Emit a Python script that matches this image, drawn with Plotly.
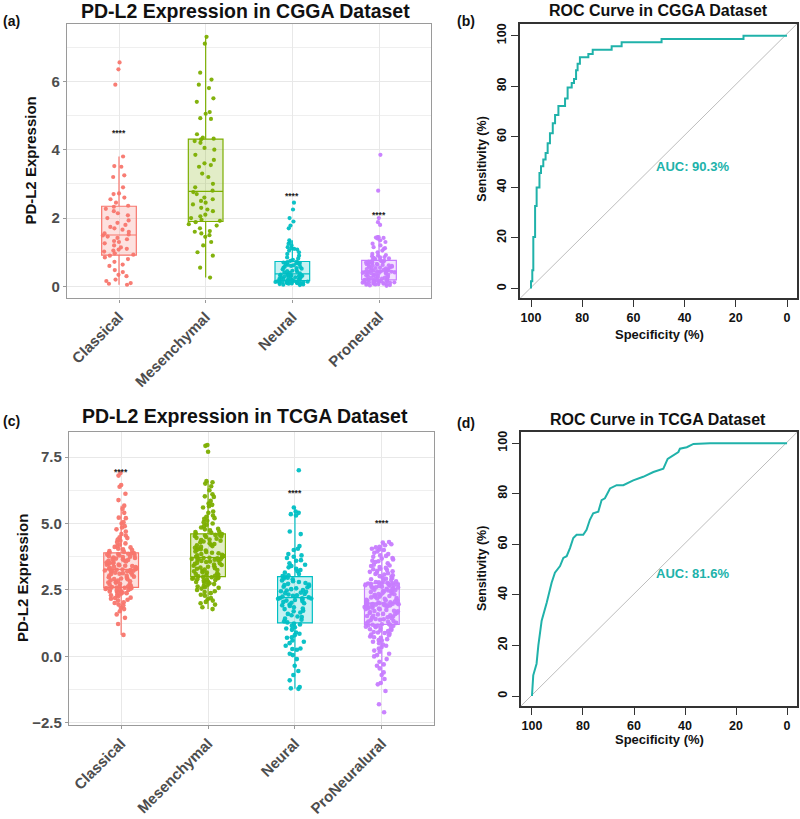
import plotly.graph_objects as go

W, H = 800, 819
FONT = "Liberation Sans"

# ---------------- data ----------------
cgga_groups = ["Classical", "Mesenchymal", "Neural", "Proneural"]
tcga_groups = ["Classical", "Mesenchymal", "Neural", "ProNeuralural"]
group_colors = ["#F8766D", "#7CAE00", "#00BFC4", "#C77CFF"]
group_fills = ["rgba(248,118,109,0.22)", "rgba(124,174,0,0.22)",
               "rgba(0,191,196,0.22)", "rgba(199,124,255,0.22)"]

cgga_classical = [0.05, 0.08, 0.1, 0.16, 0.2, 0.3, 0.34, 0.42, 0.48, 0.6, 0.64, 0.72, 0.8, 0.85, 0.9,
                  0.93, 0.97, 1.02, 1.05, 1.08, 1.1, 1.14, 1.2, 1.26, 1.3, 1.33, 1.38, 1.42, 1.46, 1.49,
                  1.52, 1.55, 1.6, 1.66, 1.7, 1.74, 1.8, 1.86, 1.93, 2.0, 2.08, 2.14, 2.2, 2.27, 2.33,
                  2.36, 2.45, 2.55, 2.6, 2.7, 2.72, 2.9, 3.2, 3.25, 3.5, 3.52, 3.8, 5.9, 6.35, 6.55]
cgga_mesenchymal = [0.26, 0.55, 0.9, 1.0, 1.2, 1.3, 1.45, 1.5, 1.55, 1.6, 1.62, 1.7, 1.78, 1.82, 1.88,
                    1.92, 1.95, 2.0, 2.05, 2.1, 2.2, 2.25, 2.3, 2.4, 2.45, 2.5, 2.55, 2.6, 2.7, 2.76,
                    2.8, 2.9, 3.0, 3.2, 3.3, 3.5, 3.55, 3.6, 3.7, 3.85, 4.0, 4.05, 4.2, 4.25, 4.3,
                    4.32, 4.35, 4.45, 4.9, 4.92, 5.05, 5.1, 5.4, 5.5, 5.8, 5.9, 6.05, 6.25, 7.1, 7.3]
cgga_neural = [0.04, 0.05, 0.06, 0.07, 0.08, 0.08, 0.09, 0.1, 0.1, 0.11, 0.11, 0.12, 0.12, 0.13, 0.13,
               0.14, 0.14, 0.15, 0.15, 0.15, 0.16, 0.16,
               0.17, 0.18, 0.19, 0.2, 0.2, 0.21, 0.22, 0.23, 0.24, 0.25, 0.26, 0.27, 0.28, 0.29, 0.3,
               0.3, 0.31, 0.32, 0.33, 0.33, 0.34, 0.35, 0.36,
               0.38, 0.4, 0.41, 0.43, 0.45, 0.46, 0.48, 0.5, 0.52, 0.54, 0.55, 0.57, 0.58, 0.6, 0.62,
               0.63, 0.65, 0.66, 0.68, 0.69, 0.7, 0.71,
               0.73, 0.75, 0.78, 0.82, 0.85, 0.9, 0.95, 1.0, 1.05, 1.08, 1.1, 1.12, 1.15, 1.2, 1.25,
               1.3, 1.35, 1.7, 1.78, 1.9, 2.0, 2.25, 2.45]
cgga_proneural = [0.02, 0.03, 0.04, 0.05, 0.06, 0.06, 0.07, 0.08, 0.08, 0.09, 0.1, 0.1, 0.11, 0.11, 0.12,
                  0.12, 0.13, 0.13, 0.14, 0.14, 0.15, 0.15, 0.16, 0.16, 0.17, 0.17, 0.18, 0.18, 0.19, 0.19,
                  0.2, 0.21, 0.22, 0.23, 0.24, 0.25, 0.26, 0.27, 0.28, 0.29, 0.3, 0.31, 0.32, 0.33, 0.34,
                  0.35, 0.36, 0.37, 0.38, 0.38, 0.39, 0.4, 0.4, 0.41, 0.42, 0.42, 0.43, 0.43, 0.44, 0.44,
                  0.46, 0.47, 0.48, 0.49, 0.5, 0.51, 0.52, 0.53, 0.54, 0.55, 0.56, 0.57, 0.58, 0.59, 0.6,
                  0.61, 0.62, 0.63, 0.64, 0.65, 0.66, 0.67, 0.68, 0.69, 0.7, 0.71, 0.72, 0.73, 0.74, 0.75,
                  0.77, 0.78, 0.8, 0.82, 0.84, 0.86, 0.88, 0.9, 0.92, 0.95, 1.0, 1.05, 1.1, 1.12, 1.15,
                  1.2, 1.25, 1.3, 1.35, 1.4, 1.42, 1.44, 1.44, 1.43, 1.8, 1.88, 2.0, 2.8, 3.85, 0.85]

tcga_classical = [0.81, 1.22, 1.45, 1.58, 1.7, 1.78, 1.83, 1.92, 1.95, 2.01, 2.04, 2.1, 2.13, 2.17, 2.2,
                  2.21, 2.26, 2.3, 2.31, 2.36, 2.38, 2.4, 2.41, 2.44, 2.45, 2.47, 2.5, 2.51, 2.52, 2.54,
                  2.55, 2.56, 2.57, 2.58, 2.59,
                  2.61, 2.63, 2.64, 2.67, 2.7, 2.71, 2.73, 2.77, 2.78, 2.8, 2.83, 2.85, 2.86, 2.9, 2.91,
                  2.93, 2.96, 2.98, 3.0, 3.03, 3.04, 3.07, 3.1, 3.11, 3.13, 3.15, 3.16, 3.19, 3.2, 3.22,
                  3.23, 3.24, 3.25, 3.26, 3.27,
                  3.28, 3.3, 3.31, 3.33, 3.36, 3.37, 3.4, 3.41, 3.43, 3.45, 3.46, 3.48, 3.5, 3.52, 3.53,
                  3.55, 3.57, 3.6, 3.61, 3.63, 3.65, 3.66, 3.68, 3.7, 3.72, 3.74, 3.75, 3.77, 3.8, 3.81,
                  3.83, 3.85, 3.86, 3.88, 3.89,
                  3.9, 3.93, 3.96, 4.0, 4.03, 4.05, 4.1, 4.12, 4.15, 4.2, 4.25, 4.3, 4.35, 4.4, 4.48,
                  4.55, 4.6, 4.7, 4.78, 4.85, 4.9, 5.0, 5.05, 5.2, 5.22, 5.4, 5.55, 5.67, 5.88, 6.12,
                  6.38, 6.45, 6.8, 6.9, 4.45]
tcga_mesenchymal = [1.78, 1.85, 1.95, 2.0, 2.05, 2.1, 2.15, 2.2, 2.28, 2.32, 2.38, 2.42, 2.45, 2.5, 2.55,
                    2.58, 2.6, 2.63, 2.66, 2.7, 2.72, 2.75, 2.78, 2.8, 2.82, 2.85, 2.87, 2.89, 2.9, 2.92,
                    2.94, 2.95, 2.97, 2.98, 2.99,
                    3.01, 3.03, 3.05, 3.08, 3.1, 3.12, 3.15, 3.17, 3.2, 3.22, 3.25, 3.27, 3.3, 3.32, 3.34,
                    3.37, 3.39, 3.41, 3.44, 3.46, 3.48, 3.5, 3.52, 3.55, 3.57, 3.59, 3.61, 3.63, 3.64, 3.66,
                    3.67, 3.68, 3.69, 3.7, 3.71,
                    3.73, 3.75, 3.78, 3.8, 3.82, 3.85, 3.88, 3.9, 3.93, 3.95, 3.98, 4.0, 4.03, 4.06, 4.09,
                    4.12, 4.15, 4.18, 4.2, 4.23, 4.26, 4.29, 4.32, 4.35, 4.38, 4.4, 4.43, 4.46, 4.49, 4.51,
                    4.53, 4.55, 4.57, 4.58, 4.6,
                    4.62, 4.65, 4.68, 4.7, 4.74, 4.78, 4.8, 4.85, 4.9, 4.95, 5.0, 5.05, 5.1, 5.18, 5.25,
                    5.3, 5.4, 5.45, 5.6, 5.65, 5.7, 5.75, 5.85, 6.0, 6.02, 6.1, 6.25, 6.4, 6.5, 6.55,
                    6.6, 7.7, 7.92, 7.95, 5.2]
tcga_neural = [-1.22, -1.2, -1.15, -0.9, -0.7, -0.55, -0.35, -0.1, 0.05, 0.1, 0.25, 0.28, 0.3, 0.4,
               0.5, 0.55, 0.6, 0.7, 0.72, 0.8, 0.85, 0.9, 1.0, 1.05, 1.1, 1.15, 1.2, 1.24,
               1.28, 1.32, 1.38, 1.42, 1.48, 1.5, 1.55, 1.6, 1.65, 1.7, 1.72, 1.78, 1.8, 1.85,
               1.9, 1.92, 1.95, 2.0, 2.02, 2.05, 2.08, 2.1, 2.12, 2.15, 2.17, 2.18, 2.19, 2.2,
               2.22, 2.25, 2.28, 2.3, 2.33, 2.35, 2.38, 2.4, 2.43, 2.45, 2.48, 2.5, 2.53, 2.56,
               2.6, 2.62, 2.65, 2.68, 2.7, 2.73, 2.76, 2.8, 2.83, 2.86, 2.9, 2.93, 2.96, 2.99,
               3.02, 3.05, 3.1, 3.15, 3.2, 3.25, 3.3, 3.35, 3.4, 3.5, 3.6, 3.62, 3.75, 3.8,
               3.85, 4.0, 4.05, 4.15, 4.6, 4.7, 5.3, 5.35, 5.4, 5.45, 5.6, 7.0, 3.7, 3.45]
tcga_proneural = [-2.1, -1.8, -1.3, -1.05, -1.0, -0.85, -0.7, -0.6, -0.45, -0.35,
                  -0.3, -0.2, -0.1, 0.0, 0.05, 0.1, 0.18, 0.22, 0.3, 0.35,
                  0.4, 0.45, 0.5, 0.55, 0.6, 0.62, 0.65, 0.7, 0.72, 0.75,
                  0.8, 0.82, 0.85, 0.88, 0.9, 0.92, 0.95, 0.98, 1.0, 1.02,
                  1.05, 1.07, 1.1, 1.12, 1.14, 1.15, 1.16, 1.17, 1.18, 1.19,
                  1.21, 1.22, 1.25, 1.26, 1.3, 1.31, 1.33, 1.36, 1.38, 1.4,
                  1.41, 1.44, 1.45, 1.47, 1.5, 1.52, 1.53, 1.55, 1.58, 1.6,
                  1.6, 1.63, 1.64, 1.67, 1.7, 1.71, 1.72, 1.75, 1.77, 1.78,
                  1.8, 1.81, 1.83, 1.85, 1.86, 1.87, 1.89, 1.9, 1.91, 1.92,
                  1.94, 1.95, 1.95, 1.96, 1.97, 1.98, 1.98, 1.99, 2.0, 2.0,
                  2.01, 2.03, 2.04, 2.06, 2.08, 2.1, 2.11, 2.13, 2.15, 2.17,
                  2.18, 2.2, 2.22, 2.24, 2.25, 2.27, 2.29, 2.3, 2.32, 2.34,
                  2.35, 2.37, 2.38, 2.4, 2.42, 2.44, 2.45, 2.46, 2.48, 2.5,
                  2.51, 2.53, 2.54, 2.56, 2.58, 2.59, 2.6, 2.62, 2.63, 2.65,
                  2.66, 2.67, 2.68, 2.7, 2.71, 2.72, 2.73, 2.74, 2.74, 2.75,
                  2.77, 2.79, 2.8, 2.83, 2.85, 2.87, 2.9, 2.92, 2.95, 2.97,
                  3.0, 3.02, 3.05, 3.08, 3.1, 3.13, 3.15, 3.18, 3.2, 3.22,
                  3.25, 3.28, 3.3, 3.33, 3.36, 3.4, 3.42, 3.45, 3.5, 3.55,
                  3.58, 3.6, 3.65, 3.68, 3.7, 3.75, 3.78, 3.8, 3.85, 3.9,
                  3.95, 4.0, 4.02, 4.05, 4.1, 4.12, 4.18, 4.22, 4.28, 4.3]

cgga_values = [cgga_classical, cgga_mesenchymal, cgga_neural, cgga_proneural]
tcga_values = [tcga_classical, tcga_mesenchymal, tcga_neural, tcga_proneural]

cgga_sig_y = [4.5, None, 2.65, 2.08]
tcga_sig_y = [6.94, None, 6.13, 5.01]

roc_cgga_spec = [100, 100, 99.5, 99.1, 98.4, 97.8, 96.7, 96.1, 95.2, 94.3, 93.5, 92.6, 91.5, 90.6,
                 89.3, 86.7, 85.7, 84.1, 83.2, 82.4, 81.8, 80.9, 77.6, 75.9, 68.5, 64.6, 49, 17, 0]
roc_cgga_sens = [0, 2.9, 7.2, 20.4, 32.7, 40, 45.7, 48.4, 51, 53.6, 57.5, 61.4, 65.4, 68.6,
                 72.2, 75.2, 79.5, 81.3, 82.9, 86.3, 88.9, 91.5, 92.8, 94.4, 95.8, 97.4, 98.7, 100, 100]

roc_tcga_spec = [100, 99.5, 98.2, 97.5, 96.2, 95.2, 94.2, 92.3, 91, 89, 87.7, 86.4, 85.1, 83.8, 82.5,
                 79.9, 78.6, 77.3, 76, 74, 72.7, 71.4, 69.4, 66.8, 64.2, 60.3, 56.4, 52.4, 48.5, 46.8,
                 44.6, 42.6, 42, 39.3, 36.7, 30.2, 0]
roc_tcga_sens = [0, 8.2, 12.8, 20, 29.8, 33, 37, 44.8, 48.8, 51.4, 54.6, 55.3, 58.5, 62.5, 63.8,
                 63.8, 65.7, 69.7, 72.3, 72.9, 77.5, 78.2, 82.1, 83.4, 83.4, 85.3, 86.7, 88.6, 89.9, 93.8,
                 95.2, 96.5, 97.8, 98.4, 99.7, 100, 100]

auc_labels = ["AUC: 90.3%", "AUC: 81.6%"]
ROC_COLOR = "#20B2AA"


def fx(p):
    return p / W


def fy(p):
    return 1 - p / H


fig = go.Figure()

# ---------------- box plots ----------------
for xa, ya, groups, values, msize in [("x", "y", cgga_groups, cgga_values, 4.2),
                                      ("x3", "y3", tcga_groups, tcga_values, 4.6)]:
    for name, vals, c, f in zip(groups, values, group_colors, group_fills):
        fig.add_trace(go.Box(
            y=vals, name=name, xaxis=xa, yaxis=ya,
            boxpoints="all", jitter=1, pointpos=0, width=0.4, whiskerwidth=0,
            fillcolor=f, line=dict(color=c, width=1.2),
            marker=dict(color=c, size=msize, opacity=0.95),
            showlegend=False, hoverinfo="y"))

# ---------------- ROC curves ----------------
fig.add_trace(go.Scatter(x=roc_cgga_spec, y=roc_cgga_sens, xaxis="x2", yaxis="y2",
                         mode="lines", line=dict(color=ROC_COLOR, width=2, shape="hv"),
                         showlegend=False))
fig.add_trace(go.Scatter(x=roc_tcga_spec, y=roc_tcga_sens, xaxis="x4", yaxis="y4",
                         mode="lines", line=dict(color=ROC_COLOR, width=2),
                         showlegend=False))

# ---------------- axes ----------------
tick_grey = dict(family=FONT, size=15, color="#4D4D4D", weight="bold")
tick_black = dict(family=FONT, size=12.5, color="#111111", weight="bold")
box_x_common = dict(type="category", range=[-0.6, 3.6], showgrid=True, gridcolor="#E8E8E8",
                    gridwidth=1, showline=True, mirror=True, linecolor="#9A9A9A", linewidth=1.3,
                    ticks="outside", ticklen=3, tickcolor="#9A9A9A", tickangle=-45,
                    tickfont=tick_grey, zeroline=False, categoryorder="array",
                    ticklabeloverflow="allow")
box_y_common = dict(showgrid=True, gridcolor="#E8E8E8", gridwidth=1, showline=True, mirror=True,
                    linecolor="#9A9A9A", linewidth=1.3, ticks="outside", ticklen=3,
                    tickcolor="#9A9A9A", tickfont=tick_grey, zeroline=False,
                    ticklabeloverflow="allow")
roc_x_common = dict(range=[104.3, -3.9], tickvals=[100, 80, 60, 40, 20, 0], showgrid=False,
                    showline=True, mirror=True, linecolor="#333333", linewidth=1.5,
                    ticks="outside", ticklen=7, tickwidth=1.3, tickcolor="#333333",
                    tickfont=tick_black, zeroline=False, ticklabeloverflow="allow")
roc_y_common = dict(tickvals=[0, 20, 40, 60, 80, 100], showgrid=False,
                    showline=True, mirror=True, linecolor="#333333", linewidth=1.5,
                    ticks="outside", ticklen=7, tickwidth=1.3, tickcolor="#333333",
                    tickfont=tick_black, tickangle=-90, zeroline=False,
                    ticklabeloverflow="allow")

top_dom = [fy(300), fy(23)]
fig.update_layout(
    xaxis=dict(domain=[fx(67), fx(431)], anchor="y", categoryarray=cgga_groups, **box_x_common),
    yaxis=dict(domain=top_dom, anchor="x", range=[-0.35, 7.68], tickvals=[0, 2, 4, 6],
               minor=dict(tickvals=[1, 3, 5, 7], showgrid=True, gridcolor="#EFEFEF", ticks=""),
               **box_y_common),
    xaxis2=dict(domain=[fx(520), fx(797)], anchor="y2", **roc_x_common),
    yaxis2=dict(domain=top_dom, anchor="x2", range=[-3.9, 104.7], **roc_y_common),
    xaxis3=dict(domain=[fx(69), fx(434)], anchor="y3", categoryarray=tcga_groups, **box_x_common),
    yaxis3=dict(domain=[fy(730), fy(435)], anchor="x3", range=[-2.57, 8.43],
                tickvals=[-2.5, 0, 2.5, 5, 7.5], ticktext=["\u22122.5", "0.0", "2.5", "5.0", "7.5"],
                minor=dict(tickvals=[-1.25, 1.25, 3.75, 6.25], showgrid=True, gridcolor="#EFEFEF", ticks=""),
                **box_y_common),
    xaxis4=dict(domain=[fx(521), fx(797)], anchor="y4", **roc_x_common),
    yaxis4=dict(domain=[fy(711), fy(435)], anchor="x4", range=[-3.9, 104.3], **roc_y_common),
)

# diagonal reference lines
for xr, yr in [("x2 domain", "y2 domain"), ("x4 domain", "y4 domain")]:
    fig.add_shape(type="line", xref=xr, yref=yr, x0=0, y0=0, x1=1, y1=1,
                  line=dict(color="#BDBDBD", width=1), layer="below")

# ---------------- annotations ----------------
ann = []


def text(x, y, s, size, color="#111111", angle=0, bold=True):
    ann.append(dict(x=fx(x), y=fy(y), xref="paper", yref="paper", text=s, showarrow=False,
                    xanchor="center", yanchor="middle", textangle=angle,
                    font=dict(family=FONT, size=size, color=color,
                              weight="bold" if bold else "normal")))


text(11, 20, "(a)", 14)
text(466, 20, "(b)", 14)
text(11, 424, "(c)", 14)
text(466, 426, "(d)", 14)
text(245, 10, "PD-L2 Expression in CGGA Dataset", 19.5)
text(245, 419, "PD-L2 Expression in TCGA Dataset", 19.5)
text(658, 10, "ROC Curve in CGGA Dataset", 16)
text(658, 422, "ROC Curve in TCGA Dataset", 16)
text(31, 161, "PD-L2 Expression", 15, angle=-90)
text(22, 582, "PD-L2 Expression", 15, angle=-90)
text(482, 160, "Sensitivity (%)", 12.5, angle=-90)
text(482, 573, "Sensitivity (%)", 12.5, angle=-90)
text(659, 336, "Specificity (%)", 13)
text(659, 745, "Specificity (%)", 13)

# significance stars
for xa, ya, groups, sig in [("x", "y", cgga_groups, cgga_sig_y), ("x3", "y3", tcga_groups, tcga_sig_y)]:
    for g, s in zip(groups, sig):
        if s is None:
            continue
        ann.append(dict(x=g, y=s, xref=xa, yref=ya, text="****", showarrow=False,
                        font=dict(family=FONT, size=8.5, color="#222222", weight="bold")))

# AUC labels
ann.append(dict(x=37, y=48.2, xref="x2", yref="y2", text=auc_labels[0], showarrow=False,
                font=dict(family=FONT, size=13, color=ROC_COLOR, weight="bold")))
ann.append(dict(x=37, y=48.6, xref="x4", yref="y4", text=auc_labels[1], showarrow=False,
                font=dict(family=FONT, size=13, color=ROC_COLOR, weight="bold")))

fig.update_layout(
    annotations=ann,
    width=W, height=H,
    margin=dict(l=0, r=0, t=0, b=0),
    paper_bgcolor="white", plot_bgcolor="white",
    boxmode="overlay",
    showlegend=False,
)

fig.write_html("out.html", config={"displayModeBar": False},
               post_script="document.body.style.margin='0px';document.body.style.padding='0px';")
